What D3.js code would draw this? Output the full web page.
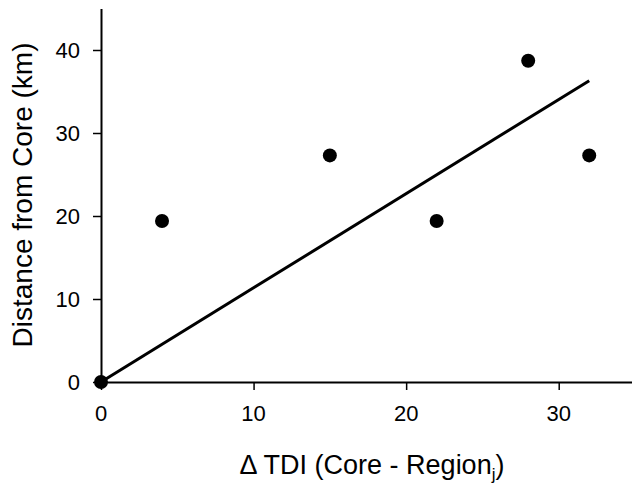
<!DOCTYPE html>
<html>
  <head>
    <meta charset="UTF-8" />
    <title>Distance from Core vs TDI</title>
    <style>
      body { margin: 0; background: #fff; }
      text { font-family: "Liberation Sans", Arial, sans-serif; fill: #000; }
    </style>
  </head>
  <body>
    <svg width="632" height="484"></svg>

    <script src="https://d3js.org/d3.v7.min.js"></script>
    <script>
      // data
      const tdi = [0, 4, 15, 22, 28, 32];
      const dist = [0, 19.4, 27.3, 19.4, 38.7, 27.3];
      const fitX = [0, 32];
      const fitY = [0, 36.3];
      const xTicks = [0, 10, 20, 30];
      const yTicks = [0, 10, 20, 30, 40];

      const svg = d3.select("svg");

      const x = d3.scaleLinear().domain([0, 35]).range([101, 635]);
      const y = d3.scaleLinear().domain([0, 45]).range([382, 8.5]);

      // axes (lines + ticks only, labels drawn below)
      const xAxis = svg.append("g")
        .attr("transform", `translate(0,${y(0)})`)
        .call(d3.axisBottom(x).tickValues(xTicks).tickSize(8).tickFormat("").tickSizeOuter(0));
      const yAxis = svg.append("g")
        .attr("transform", `translate(${x(0)},0)`)
        .call(d3.axisLeft(y).tickValues(yTicks).tickSize(8).tickFormat("").tickSizeOuter(0));

      [xAxis, yAxis].forEach((g) => {
        g.select(".domain").attr("stroke", "#000").attr("stroke-width", 2);
        g.selectAll(".tick line").attr("stroke", "#000").attr("stroke-width", 1.5);
      });

      // tick labels
      svg.selectAll(".xlab")
        .data(xTicks)
        .enter()
        .append("text")
        .attr("class", "xlab")
        .attr("x", (d) => x(d))
        .attr("y", 421)
        .attr("text-anchor", "middle")
        .attr("font-size", "22px")
        .text((d) => d);

      svg.selectAll(".ylab")
        .data(yTicks)
        .enter()
        .append("text")
        .attr("class", "ylab")
        .attr("x", 80)
        .attr("y", (d) => y(d) + 8)
        .attr("text-anchor", "end")
        .attr("font-size", "22px")
        .text((d) => d);

      // regression line
      svg.append("line")
        .attr("x1", x(fitX[0])).attr("y1", y(fitY[0]))
        .attr("x2", x(fitX[1])).attr("y2", y(fitY[1]))
        .attr("stroke", "#000")
        .attr("stroke-width", 3);

      // points
      svg.selectAll("circle")
        .data(tdi.map((d, i) => [d, dist[i]]))
        .enter()
        .append("circle")
        .attr("cx", (d) => x(d[0]))
        .attr("cy", (d) => y(d[1]))
        .attr("r", 7)
        .attr("fill", "#000");

      // axis titles
      const xt = svg.append("text")
        .attr("x", 372)
        .attr("y", 474)
        .attr("text-anchor", "middle")
        .attr("font-size", "27px");
      xt.append("tspan").text("\u0394 TDI (Core - Region");
      xt.append("tspan").attr("font-size", "17px").attr("dy", 6).text("j");
      xt.append("tspan").attr("dy", -6).text(")");

      svg.append("text")
        .attr("transform", "translate(32,195) rotate(-90)")
        .attr("text-anchor", "middle")
        .attr("font-size", "28px")
        .text("Distance from Core (km)");
    </script>
  </body>
</html>
